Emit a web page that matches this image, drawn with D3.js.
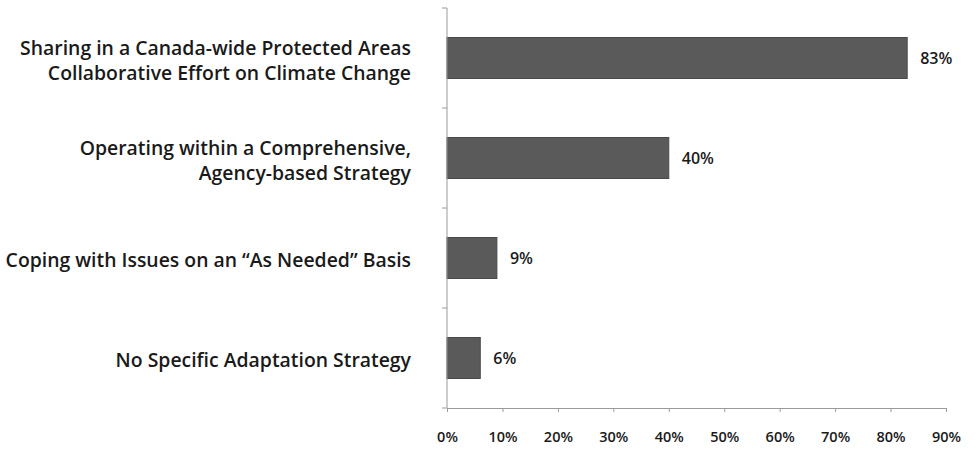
<!DOCTYPE html>
<html>
<head>
<meta charset="utf-8">
<script src="https://cdn.jsdelivr.net/npm/d3@7"></script>
<style>
  html, body { margin: 0; padding: 0; background: #fff; }
  svg { display: block; }
  text { font-family: "Open Sans", "Noto Sans", sans-serif; fill: #1a1a1a; }
</style>
</head>
<body>
<svg id="chart" width="976" height="454"></svg>
<script>
// Survey responses: approach to climate change adaptation
const categories = [
  ["Sharing in a Canada-wide Protected Areas", "Collaborative Effort on Climate Change"],
  ["Operating within a Comprehensive,", "Agency-based Strategy"],
  ["Coping with Issues on an \u201CAs Needed\u201D Basis"],
  ["No Specific Adaptation Strategy"]
];
const values = [83, 40, 9, 6];
const tickValues = [0, 10, 20, 30, 40, 50, 60, 70, 80, 90];

const svg = d3.select("#chart");
const margin = { left: 447, top: 8, bottom: 46, right: 30 };
const width = 976, height = 454;

const x = d3.scaleLinear().domain([0, 90]).range([margin.left, 946]);
const y = d3.scaleBand()
  .domain(d3.range(categories.length))
  .range([margin.top, height - margin.bottom])
  .paddingInner(0.59)
  .paddingOuter(0.295);

// bars
svg.append("g").selectAll("rect")
  .data(values)
  .join("rect")
  .attr("x", x(0))
  .attr("y", (d, i) => y(i))
  .attr("width", d => x(d) - x(0))
  .attr("height", y.bandwidth())
  .attr("fill", "#5a5a5a")
  .attr("stroke", "#4a4a4a")
  .attr("stroke-width", 1);

// value labels
svg.append("g").selectAll("text")
  .data(values)
  .join("text")
  .attr("x", d => x(d) + 13)
  .attr("y", (d, i) => y(i) + y.bandwidth() / 2 + 6)
  .attr("font-size", 16)
  .attr("font-weight", 600)
  .text(d => d + "%");

// bottom axis
const xAxis = svg.append("g")
  .attr("transform", `translate(0,${height - margin.bottom})`)
  .call(d3.axisBottom(x).tickValues(tickValues).tickSize(4).tickPadding(20)
    .tickFormat(d => d + "%"));
xAxis.select(".domain").attr("stroke", "#9a9a9a");
xAxis.selectAll(".tick line").attr("stroke", "#9a9a9a");
xAxis.selectAll(".tick text")
  .attr("font-size", 14.5)
  .attr("font-weight", 600)
  .attr("fill", "#1a1a1a")
  .attr("font-family", "\"Open Sans\", sans-serif");

// left axis with category boundary ticks
const yAxisG = svg.append("g").attr("transform", `translate(${margin.left},0)`);
yAxisG.append("line")
  .attr("x1", 0).attr("x2", 0)
  .attr("y1", margin.top).attr("y2", height - margin.bottom)
  .attr("stroke", "#9a9a9a");
const step = y.step();
const bounds = d3.range(categories.length + 1).map(i => y(0) - y.paddingOuter() * step + i * step);
yAxisG.selectAll("line.tk")
  .data(bounds)
  .join("line")
  .attr("class", "tk")
  .attr("x1", -5).attr("x2", 0)
  .attr("y1", d => d).attr("y2", d => d)
  .attr("stroke", "#9a9a9a");

// category labels
const lineH = 25;
const labels = svg.append("g").selectAll("text")
  .data(categories)
  .join("text")
  .attr("text-anchor", "end")
  .attr("font-size", 19.4)
  .attr("font-weight", 600)
  .attr("x", 411)
  .attr("y", (d, i) => y(i) + y.bandwidth() / 2 + 9 - (d.length - 1) * lineH / 2);
labels.selectAll("tspan")
  .data(d => d)
  .join("tspan")
  .attr("x", 411)
  .attr("dy", (d, j) => j === 0 ? 0 : lineH)
  .text(d => d);
</script>
</body>
</html>
